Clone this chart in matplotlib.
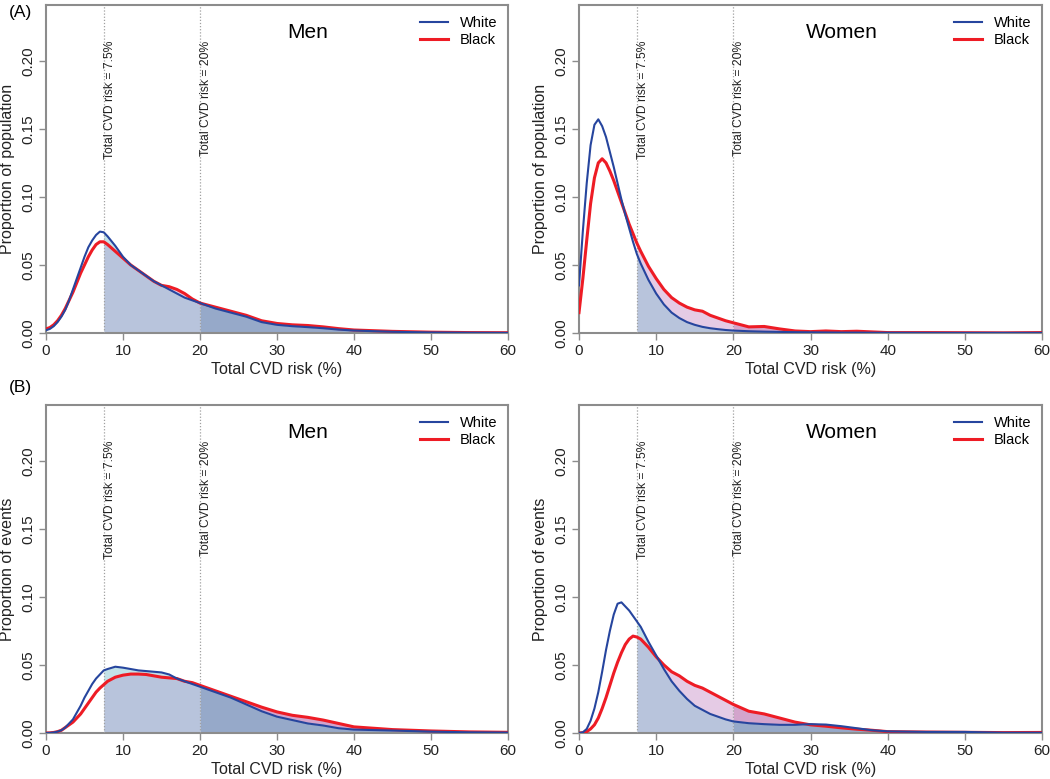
import matplotlib
matplotlib.use("Agg")
import matplotlib.pyplot as plt
import numpy as np

plt.rcParams['font.family'] = ['Liberation Sans', 'DejaVu Sans']

# total CVD risk (%) grid shared by all curves
risk = [0, 0.5, 1, 1.5, 2, 2.5, 3, 3.5, 4, 4.5, 5, 5.5, 6, 6.5, 7, 7.5, 8, 9, 10, 11, 12, 13, 14, 15,
        16, 17, 18, 19, 20, 22, 24, 26, 28, 30, 32, 34, 36, 38, 40, 45, 50, 55, 60]

# (A) proportion of population
men_pop_white = [0.002, 0.003, 0.005, 0.008, 0.012, 0.017, 0.024, 0.032, 0.040, 0.048, 0.056, 0.063,
                 0.068, 0.072, 0.0745, 0.074,
                 0.071, 0.064, 0.056, 0.050, 0.046, 0.042, 0.038, 0.035, 0.032, 0.029, 0.026, 0.024,
                 0.022, 0.018, 0.015, 0.012, 0.008, 0.006, 0.005, 0.0043, 0.0035, 0.0025, 0.0018,
                 0.0009, 0.0004, 0.0002, 0.0001]
men_pop_black = [0.003, 0.004, 0.006, 0.009, 0.013, 0.018, 0.024, 0.030, 0.037, 0.044, 0.050, 0.056,
                 0.061, 0.065, 0.067, 0.067,
                 0.065, 0.060, 0.055, 0.050, 0.046, 0.042, 0.038, 0.035, 0.034, 0.032, 0.029, 0.025,
                 0.022, 0.019, 0.016, 0.013, 0.009, 0.007, 0.006, 0.0055, 0.0045, 0.0032, 0.0022,
                 0.0012, 0.0006, 0.0003, 0.0002]
women_pop_white = [0.035, 0.075, 0.110, 0.138, 0.153, 0.157, 0.152, 0.144, 0.133, 0.122, 0.110, 0.098,
                   0.087, 0.077, 0.067, 0.058,
                   0.051, 0.039, 0.029, 0.021, 0.015, 0.011, 0.008, 0.006, 0.0045, 0.0035, 0.0028,
                   0.0022, 0.0018, 0.0013, 0.001, 0.0008, 0.0006, 0.0005, 0.0004, 0.0003, 0.0003,
                   0.0002, 0.0002, 0.0001, 0.0001, 0.0001, 0.0001]
women_pop_black = [0.015, 0.040, 0.068, 0.095, 0.114, 0.125, 0.128, 0.125, 0.119, 0.112, 0.104, 0.096,
                   0.088, 0.080, 0.073, 0.066,
                   0.060, 0.049, 0.040, 0.032, 0.026, 0.022, 0.019, 0.017, 0.016, 0.013, 0.011, 0.009,
                   0.0075, 0.0045, 0.0048, 0.003, 0.0015, 0.001, 0.0015, 0.001, 0.0013, 0.0008,
                   0.0003, 0.0003, 0.0002, 0.0001, 0.0003]

# (B) proportion of events
men_ev_white = [0.0, 0.0001, 0.0004, 0.001, 0.002, 0.004, 0.007, 0.010, 0.015, 0.020, 0.026, 0.031,
                0.036, 0.040, 0.043, 0.046,
                0.047, 0.0487, 0.048, 0.047, 0.046, 0.0455, 0.045, 0.0445, 0.043, 0.040, 0.038, 0.036,
                0.034, 0.030, 0.026, 0.021, 0.016, 0.012, 0.0095, 0.007, 0.0055, 0.0035, 0.0025,
                0.0018, 0.001, 0.0005, 0.0003]
men_ev_black = [0.0, 0.0001, 0.0004, 0.001, 0.002, 0.004, 0.006, 0.008, 0.011, 0.014, 0.018, 0.022,
                0.026, 0.030, 0.033, 0.0355,
                0.038, 0.041, 0.0425, 0.0433, 0.0433, 0.043, 0.042, 0.041, 0.0405, 0.040, 0.038, 0.037,
                0.035, 0.031, 0.027, 0.023, 0.019, 0.0155, 0.013, 0.0115, 0.0095, 0.007, 0.0045,
                0.0025, 0.0015, 0.0008, 0.0005]
women_ev_white = [0.0, 0.0005, 0.003, 0.009, 0.018, 0.030, 0.045, 0.061, 0.075, 0.087, 0.095, 0.096,
                  0.093, 0.090, 0.086, 0.082,
                  0.078, 0.067, 0.057, 0.047, 0.038, 0.031, 0.025, 0.020, 0.017, 0.014, 0.012, 0.010,
                  0.0085, 0.0072, 0.0065, 0.006, 0.006, 0.0065, 0.0062, 0.005, 0.0035, 0.002, 0.0012,
                  0.0008, 0.0008, 0.0002, 0.0002]
women_ev_black = [0.0, 0.0002, 0.001, 0.003, 0.006, 0.011, 0.018, 0.026, 0.035, 0.044, 0.052, 0.059,
                  0.065, 0.069, 0.0712, 0.0705,
                  0.069, 0.063, 0.056, 0.050, 0.045, 0.042, 0.038, 0.035, 0.033, 0.030, 0.027, 0.024,
                  0.021, 0.016, 0.014, 0.011, 0.008, 0.006, 0.005, 0.0038, 0.0028, 0.002, 0.001,
                  0.0007, 0.0005, 0.0003, 0.0004]

cutoffs = [7.5, 20]
cutoff_labels = ['Total CVD risk = 7.5%', 'Total CVD risk = 20%']

BLUE = '#26459e'
RED = '#ee1c25'
GRAY = '#8c8c8c'


def draw_panel(ax, white, black, title, ylabel):
    x = np.array(risk)
    w = np.array(white)
    b = np.array(black)
    lo = np.minimum(w, b)
    seg1 = (x >= cutoffs[0]) & (x <= cutoffs[1])
    seg2 = x >= cutoffs[1]

    # shaded areas beyond the cut-offs
    ax.fill_between(x, 0, lo, where=seg1, color='#b8c4dc', lw=0)
    ax.fill_between(x, 0, lo, where=seg2, color='#96a9c9', lw=0)
    ax.fill_between(x, lo, w, where=seg1, color='#c3e2e8', lw=0)
    ax.fill_between(x, lo, w, where=seg2, color='#a9c6d6', lw=0)
    ax.fill_between(x, lo, b, where=seg1, color='#e5cbe5', lw=0)
    ax.fill_between(x, lo, b, where=seg2, color='#d3a4cc', lw=0)

    for c, lab in zip(cutoffs, cutoff_labels):
        ax.axvline(c, color='#a0a0a0', lw=0.9, ls=(0, (1, 1.5)), zorder=3)
        ax.text(c, 0.215, lab, rotation=90, ha='left', va='top', fontsize=8.7, color='#222222')

    ax.plot(x, b, color=RED, lw=2.2, label='Black', zorder=4)
    ax.plot(x, w, color=BLUE, lw=1.5, label='White', zorder=5)

    ax.set_xlim(0, 60)
    ax.set_ylim(0, 0.241)
    ax.set_xticks(range(0, 61, 10))
    ax.set_yticks([0, 0.05, 0.10, 0.15, 0.20])
    ax.set_yticklabels(['0.00', '0.05', '0.10', '0.15', '0.20'], rotation=90, va='center')
    ax.tick_params(colors=GRAY, labelcolor='#222222', labelsize=11, length=5, width=1, pad=3)
    for s in ax.spines.values():
        s.set_color(GRAY)
        s.set_linewidth(1.5)
    ax.set_xlabel('Total CVD risk (%)', fontsize=11.5, color='#222222', labelpad=3)
    ax.set_ylabel(ylabel, fontsize=11.5, color='#222222', labelpad=4)
    ax.text(0.567, 0.915, title, transform=ax.transAxes, ha='center', va='center', fontsize=15)

    handles, labels = ax.get_legend_handles_labels()
    ax.legend(handles[::-1], labels[::-1], loc='upper right', frameon=False, fontsize=10.5,
              handlelength=1.9, handletextpad=0.8, labelspacing=0.2, borderaxespad=0.35)


fig = plt.figure(figsize=(10.5, 7.79), dpi=100)
W, H = 1050, 779
def box(l, t, r, b):
    return [l / W, 1 - b / H, (r - l) / W, (b - t) / H]

ax1 = fig.add_axes(box(46, 5, 508, 333))
ax2 = fig.add_axes(box(579, 5, 1042, 333))
ax3 = fig.add_axes(box(46, 405, 508, 733))
ax4 = fig.add_axes(box(579, 405, 1042, 733))

draw_panel(ax1, men_pop_white, men_pop_black, 'Men', 'Proportion of population')
draw_panel(ax2, women_pop_white, women_pop_black, 'Women', 'Proportion of population')
draw_panel(ax3, men_ev_white, men_ev_black, 'Men', 'Proportion of events')
draw_panel(ax4, women_ev_white, women_ev_black, 'Women', 'Proportion of events')

fig.text(20 / W, 1 - 12 / H, '(A)', ha='center', va='center', fontsize=12.5)
fig.text(20 / W, 1 - 388 / H, '(B)', ha='center', va='center', fontsize=12.5)

fig.savefig('out.png', dpi=100)
